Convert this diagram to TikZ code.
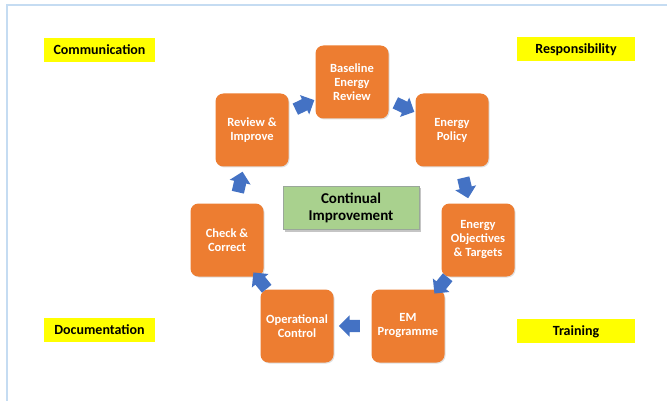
\documentclass[tikz,border=0pt]{standalone}
\usepackage{fontspec}
\setmainfont{Carlito}
\usetikzlibrary{shapes.arrows,shadows}
\definecolor{orangebox}{HTML}{ED7D31}
\definecolor{greenbox}{HTML}{A9D18E}
\definecolor{greenedge}{HTML}{9AA79A}
\definecolor{arrowblue}{HTML}{4472C4}
\definecolor{framecol}{HTML}{C5DCF2}
\definecolor{labelyellow}{HTML}{FFFF00}
\begin{document}
\begin{tikzpicture}[x=1pt,y=-1pt,
  stepbox/.style={rounded corners=8pt, fill=orangebox, minimum width=73pt, minimum height=73pt,
    text=white, font=\bfseries\fontsize{12.5}{14}\selectfont, align=center, inner sep=2pt,
    drop shadow={shadow xshift=1pt, shadow yshift=-1pt, opacity=0.25}},
  centrebox/.style={fill=greenbox, draw=greenedge, line width=0.6pt, minimum width=136pt, minimum height=43pt,
    font=\bfseries\fontsize{15}{17}\selectfont, align=center, text=black,
    drop shadow={shadow xshift=2pt, shadow yshift=-2pt, opacity=0.45}},
  tagbox/.style={fill=labelyellow, minimum height=24pt, inner sep=0pt, text height=10.5pt, text depth=1.5pt,
    font=\bfseries\fontsize{14}{16}\selectfont, text=black},
  blockarrow/.style={single arrow, fill=arrowblue, draw=none, inner xsep=0pt, inner ysep=6pt,
    minimum height=21pt, minimum width=21pt, single arrow head extend=4.5pt,
    sloped, allow upside down, anchor=center}
]
\useasboundingbox (0,0) rectangle (667,401);
\fill[white] (0,0) rectangle (667,401);
\draw[framecol, line width=2pt] (7,403) -- (7,5) -- (669,5);

% steps of the cycle
\node[stepbox] (base) at (352,82) {Baseline\\Energy\\Review};
\node[stepbox] (pol)  at (452,130) {Energy\\Policy};
\node[stepbox] (obj)  at (478,240) {Energy\\Objectives\\\& Targets};
\node[stepbox] (emp)  at (408,326) {EM\\Programme};
\node[stepbox] (opc)  at (297,326) {Operational\\Control};
\node[stepbox] (chk)  at (227,240) {Check \&\\Correct};
\node[stepbox] (rev)  at (252,130) {Review \&\\Improve};

\node[centrebox] (ci) at (351,208) {Continual\\Improvement};

% corner labels
\node[tagbox, minimum width=111pt] (comm) at (99.5,50) {Communication};
\node[tagbox, minimum width=118pt] (resp) at (576,49.5) {Responsibility};
\node[tagbox, minimum width=111pt] (docu) at (99.5,330) {Documentation};
\node[tagbox, minimum width=118pt] (trai) at (576,330.5) {Training};

% block arrows between steps
\path (base) -- node[blockarrow] (a1) {} (pol);
\path (pol)  -- node[blockarrow] (a2) {} (obj);
\path (obj)  -- node[blockarrow] (a3) {} (emp);
\path (emp)  -- node[blockarrow] (a4) {} (opc);
\path (opc)  -- node[blockarrow] (a5) {} (chk);
\path (chk)  -- node[blockarrow] (a6) {} (rev);
\path (rev)  -- node[blockarrow] (a7) {} (base);
\end{tikzpicture}
\end{document}
